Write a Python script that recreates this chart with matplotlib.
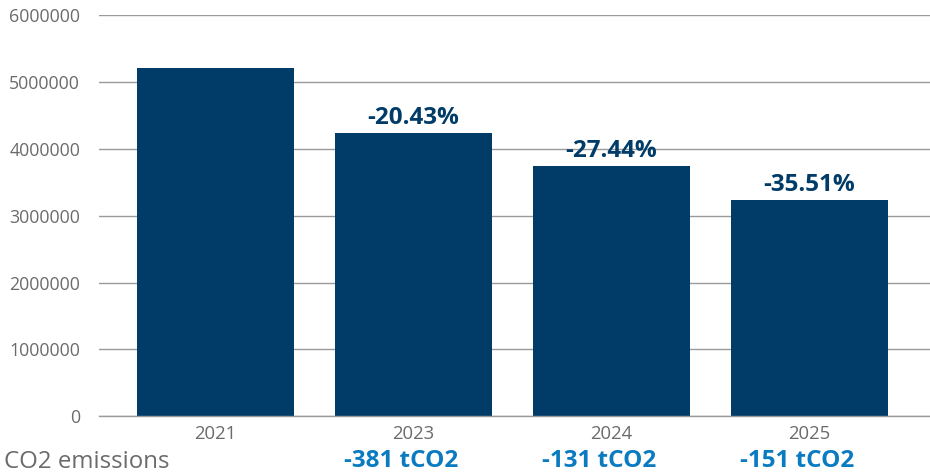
import matplotlib
matplotlib.use("Agg")
import matplotlib.pyplot as plt
from matplotlib.transforms import blended_transform_factory, ScaledTranslation

years = ["2021", "2023", "2024", "2025"]
emissions = [5215000, 4240000, 3748000, 3240000]
change_pct = ["", "-20.43%", "-27.44%", "-35.51%"]
change_t = ["", "-381 tCO2", "-131 tCO2", "-151 tCO2"]
y_ticks = [0, 1000000, 2000000, 3000000, 4000000, 5000000, 6000000]

BAR = "#013C69"
GRID = "#9a9a9a"
TEXT = "#6b6b6b"
BLUE = "#0A7BC1"

plt.rcParams["font.family"] = ["Open Sans", "DejaVu Sans"]

fig = plt.figure(figsize=(9.3, 4.73), dpi=100)
ax = fig.add_axes([99 / 930, 56.7 / 473, 831 / 930, 401 / 473])

x = list(range(len(years)))
ax.bar(x, emissions, width=0.795, color=BAR, zorder=3)

ax.set_ylim(0, 6000000)
ax.set_xlim(-0.59, 3.61)
ax.set_yticks(y_ticks)
ax.set_yticklabels([str(v) for v in y_ticks], fontsize=12.8, color=TEXT)
ax.set_xticks(x)
ax.set_xticklabels(years, fontsize=13.3, color=TEXT)
ax.tick_params(axis="y", length=0, pad=13.5)
ax.tick_params(axis="x", length=0, pad=6)

ax.grid(axis="y", color=GRID, linewidth=1.0, zorder=0)
for s in ["top", "right", "left"]:
    ax.spines[s].set_visible(False)
ax.spines["bottom"].set_color(GRID)
ax.spines["bottom"].set_linewidth(1.0)
ax.spines["bottom"].set_zorder(4)

for xi, v, lab in zip(x, emissions, change_pct):
    if lab:
        ax.annotate(lab, (xi, v), xytext=(0, 6.5), textcoords="offset points",
                    ha="center", va="baseline", fontsize=17.5, fontweight="bold",
                    color=BAR)

trans = blended_transform_factory(ax.transData, fig.transFigure) + \
    ScaledTranslation(-12 / 100, 0, fig.dpi_scale_trans)
for xi, lab in zip(x, change_t):
    if lab:
        ax.text(xi, 6 / 473, lab, transform=trans, ha="center",
                va="baseline", fontsize=17.5, fontweight="bold", color=BLUE)

fig.text(4 / 930, 5.5 / 473, "CO2 emissions", ha="left", va="baseline",
         fontsize=17.3, color=TEXT)

fig.savefig("out.png", dpi=100)
